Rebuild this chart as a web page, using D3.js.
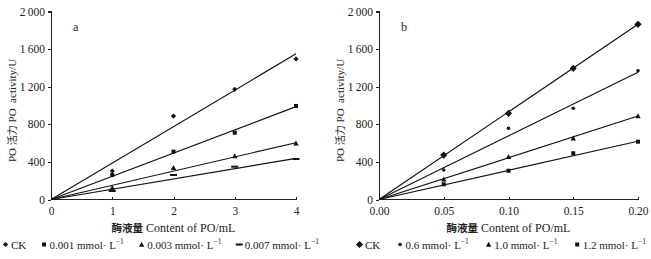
<!DOCTYPE html>
<html lang="en">
<head>
<meta charset="UTF-8">
<script src="https://d3js.org/d3.v7.min.js"></script>
<style>
  body { margin: 0; background: #fff; }
  svg text { font-family: "Liberation Serif", "Noto Sans CJK SC", serif; fill: #222; }
  .axis path, .axis line { stroke: #222; fill: none; shape-rendering: crispEdges; }
  .axis text { font-size: 11.5px; font-family: "Liberation Serif", serif; }
  .fit { stroke: #111; stroke-width: 1.2; fill: none; }
  .ylab { font-family: "Liberation Serif", serif; font-size: 11px; }
</style>
</head>
<body>
<script>
// panel a
const xA = [1, 2, 3, 4];
const seriesA = ["CK", "0.001 mmol· L", "0.003 mmol· L", "0.007 mmol· L"];
const ckA = [303, 888, 1172, 1495];
const c001 = [260, 509, 711, 995];
const c003 = [126, 338, 463, 598];
const c007 = [90, 261, 349, 431];
const fitEndA = [1550, 988, 604, 438];   // fitted line value at x = 4
const xTicksA = [0, 1, 2, 3, 4];

// panel b
const xB = [0.05, 0.10, 0.15, 0.20];
const seriesB = ["CK", "0.6 mmol· L", "1.0 mmol· L", "1.2 mmol· L"];
const ckB = [473, 917, 1396, 1864];
const c06 = [314, 758, 970, 1370];
const c10 = [215, 455, 651, 888];
const c12 = [162, 306, 492, 615];
const fitEndB = [1864, 1353, 888, 620];  // fitted line value at x = 0.20
const xTicksB = [0, 0.05, 0.10, 0.15, 0.20];

const yTicks = [0, 400, 800, 1200, 1600, 2000];

const W = 651, H = 259;
const svg = d3.select("body").append("svg").attr("width", W).attr("height", H);

const fmtY = d => d >= 1000 ? d3.format(",")(d).replace(",", "\u2009") : String(d);

function marker(g, shape, x, y, big) {
  if (shape === "diamond") {
    const s = big ? 3.6 : 2.6;
    g.append("path").attr("d", `M${x},${y - s}L${x + s},${y}L${x},${y + s}L${x - s},${y}Z`).attr("fill", "#111");
  } else if (shape === "square") {
    const s = 2;
    g.append("rect").attr("x", x - s).attr("y", y - s).attr("width", 2 * s).attr("height", 2 * s).attr("fill", "#111");
  } else if (shape === "dot") {
    g.append("circle").attr("cx", x).attr("cy", y).attr("r", 1.8).attr("fill", "#111");
  } else if (shape === "triangle") {
    const s = 2.7;
    g.append("path").attr("d", `M${x},${y - s}L${x + s},${y + s * 0.8}L${x - s},${y + s * 0.8}Z`).attr("fill", "#111");
  } else if (shape === "dash") {
    g.append("rect").attr("x", x - 3.5).attr("y", y - 1).attr("width", 7).attr("height", 2).attr("fill", "#111");
  }
}

function panel(opt) {
  const x = d3.scaleLinear().domain(opt.xDomain).range(opt.xRange);
  const y = d3.scaleLinear().domain([0, 2000]).range([199.5, 11.5]);
  const g = svg.append("g");

  g.append("g").attr("class", "axis")
    .attr("transform", `translate(${opt.xRange[0]},0)`)
    .call(d3.axisLeft(y).tickValues(yTicks).tickSize(3).tickPadding(3).tickFormat(fmtY))
    .call(s => s.select(".domain").attr("d", `M-3,${y(2000)}H0V${y(0)}`));

  g.append("g").attr("class", "axis")
    .attr("transform", `translate(0,${y(0)})`)
    .call(d3.axisBottom(x).tickValues(opt.xTicks).tickSize(-3).tickPadding(7).tickFormat(opt.xFmt))
    .call(s => s.select(".domain").attr("d", `M${opt.xRange[0]},0H${opt.xRange[1]}`));

  const xMax = opt.xDomain[1];
  opt.fitEnd.forEach(v => {
    g.append("line").attr("class", "fit")
      .attr("x1", x(0)).attr("y1", y(0))
      .attr("x2", x(xMax)).attr("y2", y(v));
  });

  opt.series.forEach((vals, i) => {
    vals.forEach((v, j) => marker(g, opt.shapes[i], x(opt.xs[j]), y(v), opt.bigDiamond));
  });

  g.append("text").attr("x", opt.xRange[0] + 22).attr("y", 31)
    .style("font-size", "12px").text(opt.tag);

  // y label: bottom at y≈162, top at y≈45 in the reference
  const yl = g.append("text").attr("class", "ylab")
    .attr("transform", `translate(${opt.xRange[0] - 35},162) rotate(-90)`)
    .attr("text-anchor", "start");
  yl.append("tspan").text("PO ");
  yl.append("tspan").style("font-family", "'Noto Sans CJK SC'").style("font-size", "10px").text("活力");
  yl.append("tspan").text(" PO\u2002activity/U");
  const len = yl.node().getComputedTextLength();
  if (len > 118) yl.attr("textLength", 117).attr("lengthAdjust", "spacingAndGlyphs");

  const xl = g.append("text").attr("x", (opt.xRange[0] + opt.xRange[1]) / 2).attr("y", 232)
    .attr("text-anchor", "middle").style("font-size", "12px");
  xl.append("tspan").style("font-weight", "bold").style("font-family", "'Noto Sans CJK SC'").style("font-size", "10.5px").text("酶液量");
  xl.append("tspan").text(" Content of PO/mL");

  // legend: items laid out between opt.legendSpan[0] and [1]
  const items = opt.names.map((name, i) => {
    const t = g.append("text").attr("y", 248.5).style("font-size", "11px");
    t.append("tspan").text(name);
    if (i > 0) t.append("tspan").attr("dy", -4.5).style("font-size", "7.5px").text("\u22121");
    return t;
  });
  const mk = 8;
  const widths = items.map(t => t.node().getComputedTextLength());
  const natural = d3.sum(widths) + mk * items.length;
  const gap = (opt.legendSpan[1] - opt.legendSpan[0] - natural) / (items.length - 1);
  let cx = opt.legendSpan[0];
  items.forEach((t, i) => {
    marker(g, opt.shapes[i], cx + 2.5, 244.5, opt.bigDiamond);
    t.attr("x", cx + mk);
    cx += mk + widths[i] + gap;
  });
}

panel({
  xDomain: [0, 4], xRange: [51, 296], xTicks: xTicksA, xFmt: d3.format("d"),
  xs: xA, series: [ckA, c001, c003, c007], fitEnd: fitEndA,
  shapes: ["diamond", "square", "triangle", "dash"], bigDiamond: false,
  names: seriesA, legendSpan: [3, 319], tag: "a"
});

panel({
  xDomain: [0, 0.2], xRange: [379, 638], xTicks: xTicksB, xFmt: d3.format(".2f"),
  xs: xB, series: [ckB, c06, c10, c12], fitEnd: fitEndB,
  shapes: ["diamond", "dot", "triangle", "square"], bigDiamond: true,
  names: seriesB, legendSpan: [357, 646], tag: "b"
});
</script>
</body>
</html>
